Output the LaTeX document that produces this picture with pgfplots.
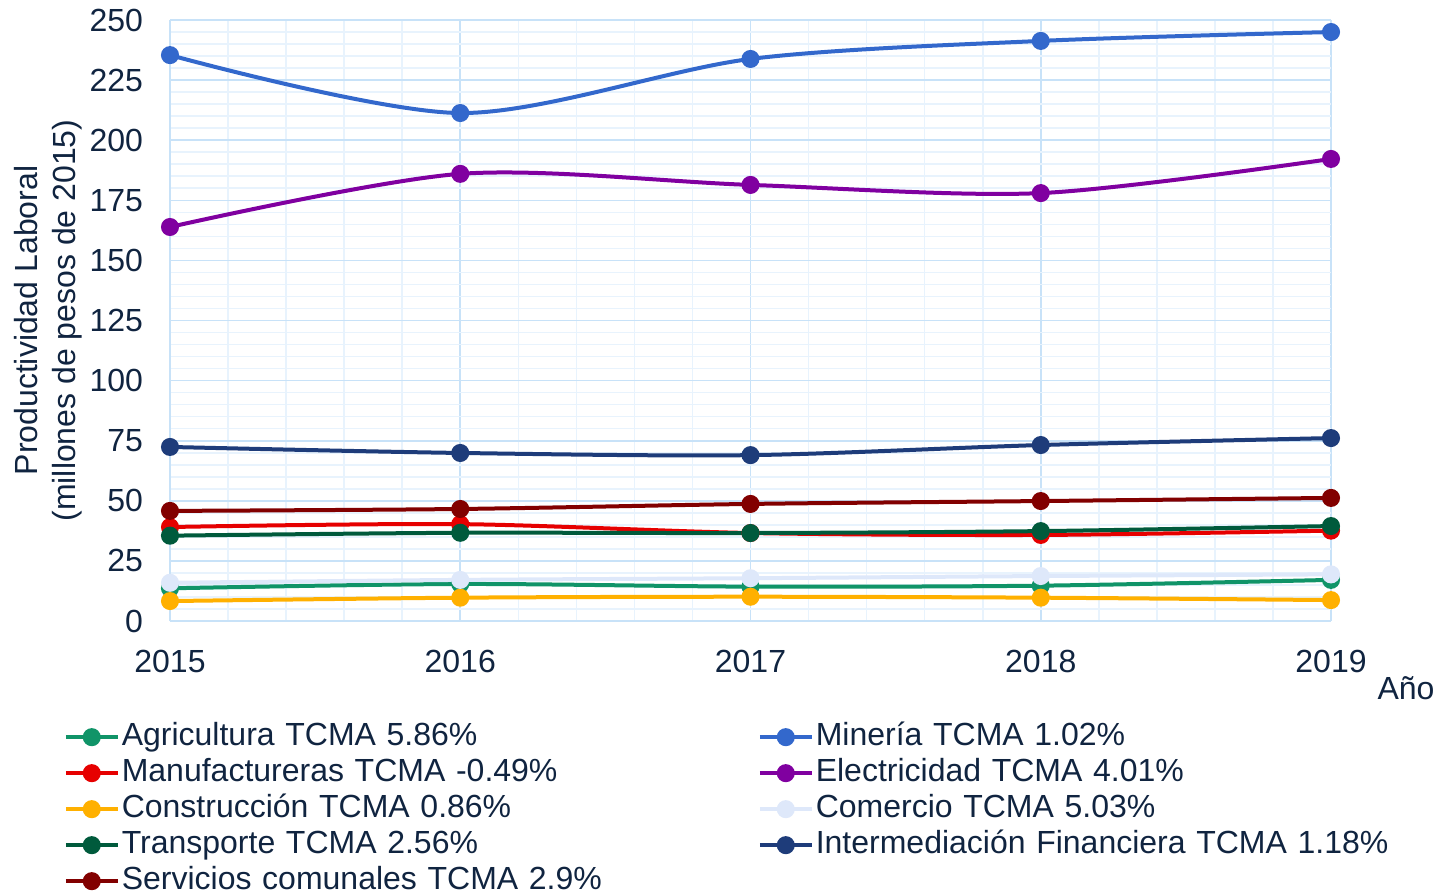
\documentclass[border=0pt]{standalone}
\usepackage{pgfplots}
\pgfplotsset{compat=1.18}
\usepackage{fontspec}
\setmainfont{Liberation Sans}
\definecolor{txt}{RGB}{16,36,64}
\definecolor{cAgr}{RGB}{16,148,104}
\definecolor{cMin}{RGB}{51,104,204}
\definecolor{cMan}{RGB}{230,0,0}
\definecolor{cEle}{RGB}{128,0,160}
\definecolor{cCon}{RGB}{255,176,0}
\definecolor{cCom}{RGB}{222,232,250}
\definecolor{cTra}{RGB}{0,90,60}
\definecolor{cInt}{RGB}{30,60,122}
\definecolor{cSer}{RGB}{130,0,0}
\definecolor{gmaj}{RGB}{200,226,248}
\definecolor{gmin}{RGB}{232,243,253}
\begin{document}
\begin{tikzpicture}
\begin{axis}[
  scale only axis,
  width=580.5pt, height=300.5pt,
  xmin=2015, xmax=2019, ymin=0, ymax=250,
  xtick={2015,2016,2017,2018,2019},
  ytick={0,25,...,250},
  minor x tick num=4, minor y tick num=4,
  grid=both,
  major grid style={gmaj, line width=0.8pt},
  minor grid style={gmin, line width=0.8pt},
  axis line style={gmaj, line width=1pt},
  axis x line*=bottom, axis y line*=left,
  tick style={draw=none},
  major tick length=0pt, minor tick length=0pt,
  /pgf/number format/1000 sep={},
  /pgf/number format/assume math mode=true,
  tick label style={font=\fontsize{16}{19}\selectfont, text=txt},
  xticklabel style={yshift=-11pt},
  yticklabel style={xshift=-10pt},
  every axis y label/.style={at={(axis description cs:-0.105,0.5)},rotate=90,anchor=center,align=center,font=\fontsize{16}{19}\selectfont,text=txt},
  ylabel={Productividad Laboral\\(millones de pesos de 2015)},
  every axis x label/.style={at={(axis description cs:1.0646,-0.111)},anchor=center,font=\fontsize{16}{19}\selectfont,text=txt},
  xlabel={Año},
  every axis plot/.append style={line width=2pt, smooth, tension=0.5, mark=*, mark size=3.5pt, mark options={solid}},
  legend columns=2,
  legend cell align=left,
  legend style={at={(axis description cs:-0.097,-0.156)}, anchor=north west, draw=none, fill=none,
    font=\fontsize{16}{19}\selectfont, text=txt, row sep=0pt,
    nodes={inner xsep=1pt, inner ysep=1.5pt, text height=11.5pt, text depth=3.5pt},
    /tikz/every even column/.append style={text width=317pt}},
  legend image code/.code={\draw[mark repeat=2,mark phase=2,#1] plot coordinates {(0pt,0pt) (13pt,0pt) (26pt,0pt)};},
]
\addplot[cAgr] coordinates {(2015,13.6) (2016,15.4) (2017,14.3) (2018,14.7) (2019,17.1)};
\addlegendentry{Agricultura TCMA 5.86\%}
\addplot[cMin] coordinates {(2015,235.4) (2016,211.3) (2017,233.8) (2018,241.3) (2019,245.0)};
\addlegendentry{Minería TCMA 1.02\%}
\addplot[cMan] coordinates {(2015,39.1) (2016,40.3) (2017,36.6) (2018,35.8) (2019,37.6)};
\addlegendentry{Manufactureras TCMA -0.49\%}
\addplot[cEle] coordinates {(2015,163.9) (2016,186.0) (2017,181.4) (2018,178.0) (2019,192.2)};
\addlegendentry{Electricidad TCMA 4.01\%}
\addplot[cCon] coordinates {(2015,8.3) (2016,9.7) (2017,10.1) (2018,9.7) (2019,8.7)};
\addlegendentry{Construcción TCMA 0.86\%}
\addplot[cCom] coordinates {(2015,15.9) (2016,17.1) (2017,17.8) (2018,18.7) (2019,19.4)};
\addlegendentry{Comercio TCMA 5.03\%}
\addplot[cTra] coordinates {(2015,35.5) (2016,36.7) (2017,36.6) (2018,37.4) (2019,39.5)};
\addlegendentry{Transporte TCMA 2.56\%}
\addplot[cInt] coordinates {(2015,72.4) (2016,69.9) (2017,69.0) (2018,73.2) (2019,76.1)};
\addlegendentry{Intermediación Financiera TCMA 1.18\%}
\addplot[cSer] coordinates {(2015,45.8) (2016,46.6) (2017,48.7) (2018,49.9) (2019,51.2)};
\addlegendentry{Servicios comunales TCMA 2.9\%}
\end{axis}
\pgfresetboundingbox
\useasboundingbox (-85pt,-137pt) rectangle (634pt,310.5pt);
\end{tikzpicture}
\end{document}
